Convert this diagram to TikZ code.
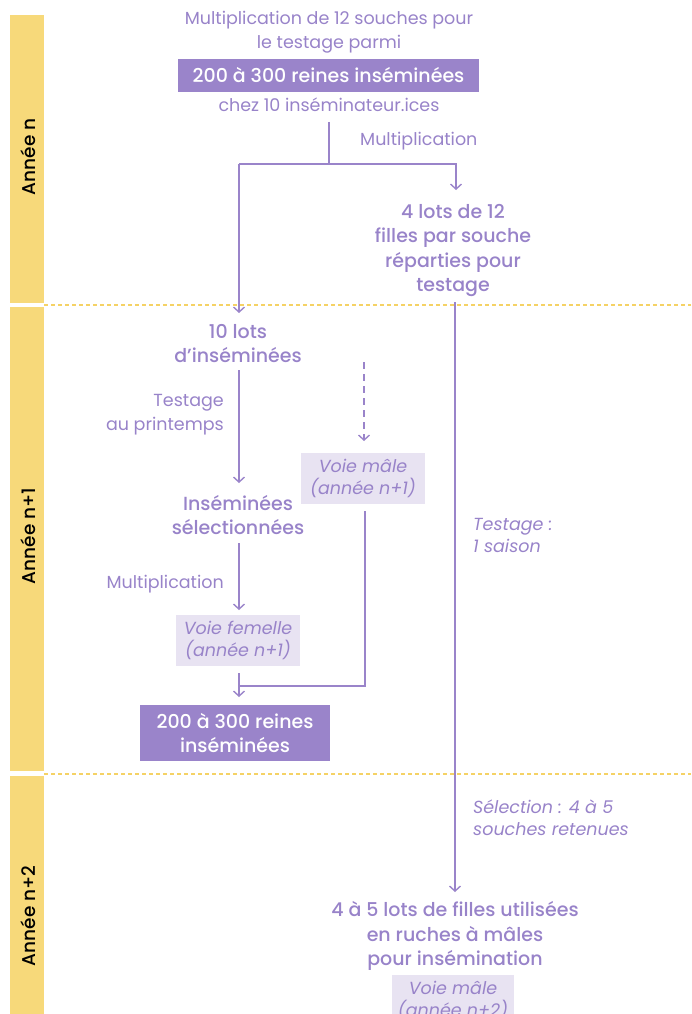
\documentclass[tikz,border=0pt]{standalone}
\usepackage{fontspec}
\setmainfont{Poppins}[BoldFont={Poppins Medium}]
\usetikzlibrary{arrows.meta}
\definecolor{pur}{HTML}{9A84CA}
\definecolor{purtxt}{HTML}{9883C9}
\definecolor{lav}{HTML}{E8E3F2}
\definecolor{yel}{HTML}{F7D97A}
\definecolor{yelline}{HTML}{F5D265}
\begin{document}
\begin{tikzpicture}[x=1pt,y=-1pt,
  txt/.style={text=purtxt,font=\fontsize{17.5}{24.5}\selectfont,align=center,inner sep=0pt},
  btxt/.style={text=purtxt,font=\fontsize{19}{24.5}\selectfont\bfseries,align=center,inner sep=0pt},
  itxt/.style={text=purtxt,font=\fontsize{17.5}{22}\selectfont\itshape,inner sep=0pt},
  darkbox/.style={fill=pur,text=white,font=\fontsize{19}{24.5}\selectfont\bfseries,align=center,inner sep=0pt},
  lightbox/.style={fill=lav,text=purtxt,font=\fontsize{17.5}{22.5}\selectfont\itshape,align=center,inner sep=0pt},
  conn/.style={draw=pur,line width=1.4pt},
  arr/.style={conn,-{Straight Barb[length=5pt,width=11pt,line width=1.4pt]}},
  year/.style={rotate=90,font=\fontsize{18.5}{20}\selectfont\bfseries,text=black,inner sep=0pt},
  sep/.style={draw=yelline,line width=1.2pt,dash pattern=on 4pt off 3pt}]
\useasboundingbox (0,0) rectangle (691,1014);
\clip (0,0) rectangle (691,1014);
% year bands
\fill[yel] (10,15) rectangle (44,303);
\fill[yel] (10,307) rectangle (44,771);
\fill[yel] (10,776) rectangle (44,1014);
\node[year] (y0) at (28,157) {Année n};
\node[year] (y1) at (28,536) {Année n+1};
\node[year] (y2) at (28,916) {Année n+2};
\draw[sep] (44,305) -- (691,305);
\draw[sep] (44,774) -- (691,774);
% top
\node[txt] (t1) at (329,32) {Multiplication de 12 souches pour\\le testage parmi};
\node[darkbox,minimum width=301pt,minimum height=33pt] (b1) at (328.5,75.5) {200 à 300 reines inséminées};
\node[txt] (t2) at (329,105) {chez 10 inséminateur.ices};
\node[txt,anchor=west] (m1) at (360,141) {Multiplication};
\coordinate (s1) at (329,122);
\coordinate (j1) at (329,164);
\coordinate (jl) at (239,164);
\coordinate (jr) at (456,164);
\coordinate (er) at (456,190);
\coordinate (el) at (239,313);
\node[btxt] (lots4) at (453,250.5) {4 lots de 12\\filles par souche\\réparties pour\\testage};
\node[btxt] (lots10) at (238,343.5) {10 lots\\d’inséminées};
\draw[conn] (s1) -- (j1);
\draw[arr] (jl) -- (jr) -- (er);
\draw[arr] (jl) -- (el);
% left column
\node[txt,align=right,anchor=east] (tp) at (224,414.5) {Testage\\au printemps};
\node[btxt] (sel) at (238,515) {Inséminées\\sélectionnées};
\draw[arr] (239,370) -- (239,483);
\node[txt,anchor=east] (m2) at (224,584) {Multiplication};
\node[lightbox,minimum width=124pt,minimum height=51pt] (vf) at (238,640.5) {Voie femelle\\(année n+1)};
\draw[arr] (239,543) -- (239,610);
\node[darkbox,minimum width=190pt,minimum height=56pt] (b2) at (235,733) {200 à 300 reines\\inséminées};
\coordinate (jm) at (239,686);
\draw[arr] (239,673) -- (239,697);
% male path
\node[lightbox,minimum width=124pt,minimum height=51pt] (vm) at (363,478.5) {Voie mâle\\(année n+1)};
\draw[conn,dash pattern=on 7pt off 5pt] (364,362) -- (364,436);
\draw[conn,-{Straight Barb[length=5pt,width=11pt,line width=1.4pt]}] (364,436) -- (364,441);
\draw[conn] (365,511) -- (365,686) -- (jm);
% right column
\node[itxt,anchor=west,align=left] (ts) at (473,535.5) {Testage :\\1 saison};
\node[itxt,anchor=west,align=left] (se) at (473,817.5) {Sélection : 4 à 5\\souches retenues};
\node[btxt] (lots45) at (455,936) {4 à 5 lots de filles utilisées\\en ruches à mâles\\pour insémination};
\draw[arr] (455,302) -- (455,892);
\node[lightbox,minimum width=122pt,minimum height=51pt] (vm2) at (453,1000.5) {Voie mâle\\(année n+2)};
\end{tikzpicture}
\end{document}
